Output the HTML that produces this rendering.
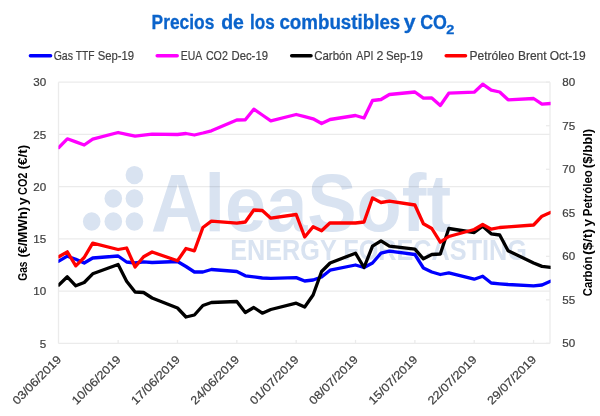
<!DOCTYPE html>
<html><head><meta charset="utf-8"><title>Precios de los combustibles y CO2</title>
<style>html,body{margin:0;padding:0;background:#fff}svg{display:block;will-change:transform}text{font-family:"Liberation Sans",sans-serif}</style></head><body>
<svg width="600" height="416" viewBox="0 0 600 416">
<rect width="600" height="416" fill="#fff"/>
<g fill="#d9e3f1">
<ellipse cx="134.4" cy="175.1" rx="8.8" ry="9.2"/>
<ellipse cx="113.3" cy="198.5" rx="8.8" ry="9.2"/>
<ellipse cx="134.4" cy="198.5" rx="8.8" ry="9.2"/>
<ellipse cx="91.7" cy="221.5" rx="8.8" ry="9.2"/>
<ellipse cx="113.3" cy="221.5" rx="8.8" ry="9.2"/>
<ellipse cx="134.4" cy="221.5" rx="8.8" ry="9.2"/>
<text transform="translate(151.10,230.9) scale(0.9927,1.095)" font-size="74.5" font-weight="bold">A</text>
<text transform="translate(204.50,230.9) scale(0.9927,1.095)" font-size="74.5" font-weight="bold">l</text>
<text transform="translate(225.06,230.9) scale(0.9927,1.035)" font-size="74.5" font-weight="bold">e</text>
<text transform="translate(266.18,230.9) scale(0.9927,1.035)" font-size="74.5" font-weight="bold">a</text>
<text transform="translate(307.30,230.9) scale(0.9927,1.095)" font-size="74.5" font-weight="bold">S</text>
<text transform="translate(356.62,230.9) scale(0.9927,1.035)" font-size="74.5" font-weight="bold">o</text>
<text transform="translate(401.81,230.9) scale(0.9927,1.095)" font-size="74.5" font-weight="bold">f</text>
<text transform="translate(426.44,230.9) scale(0.9927,1.095)" font-size="74.5" font-weight="bold">t</text>
<text transform="translate(230.2,259.8) scale(1,1.17)" font-size="24.7" font-weight="bold" textLength="296.7" lengthAdjust="spacingAndGlyphs">ENERGY FORECASTING</text>
</g>
<g stroke="#ebebeb" stroke-width="1.3" fill="none" style="mix-blend-mode:multiply">
<line x1="58.5" y1="82.20" x2="550.0" y2="82.20"/>
<line x1="58.5" y1="134.44" x2="550.0" y2="134.44"/>
<line x1="58.5" y1="186.68" x2="550.0" y2="186.68"/>
<line x1="58.5" y1="238.92" x2="550.0" y2="238.92"/>
<line x1="58.5" y1="291.16" x2="550.0" y2="291.16"/>
<line x1="58.5" y1="343.40" x2="550.0" y2="343.40"/>
<line x1="58.5" y1="82.2" x2="58.5" y2="343.4"/>
<line x1="550.0" y1="82.2" x2="550.0" y2="343.4"/>
<line x1="546.0" y1="82.20" x2="550.0" y2="82.20"/>
<line x1="546.0" y1="125.73" x2="550.0" y2="125.73"/>
<line x1="546.0" y1="169.27" x2="550.0" y2="169.27"/>
<line x1="546.0" y1="212.80" x2="550.0" y2="212.80"/>
<line x1="546.0" y1="256.33" x2="550.0" y2="256.33"/>
<line x1="546.0" y1="299.87" x2="550.0" y2="299.87"/>
<line x1="546.0" y1="343.40" x2="550.0" y2="343.40"/>
<line x1="118.15" y1="339.9" x2="118.15" y2="343.4"/>
<line x1="177.49" y1="339.9" x2="177.49" y2="343.4"/>
<line x1="236.84" y1="339.9" x2="236.84" y2="343.4"/>
<line x1="296.18" y1="339.9" x2="296.18" y2="343.4"/>
<line x1="355.53" y1="339.9" x2="355.53" y2="343.4"/>
<line x1="414.88" y1="339.9" x2="414.88" y2="343.4"/>
<line x1="474.22" y1="339.9" x2="474.22" y2="343.4"/>
<line x1="533.57" y1="339.9" x2="533.57" y2="343.4"/>
</g>
<clipPath id="pa"><rect x="58.4" y="60" width="492.2" height="300"/></clipPath>
<g fill="none" stroke-width="3.3" stroke-linejoin="round" stroke-linecap="round" clip-path="url(#pa)">
<polyline stroke="#0000ff" points="58.8,261.2 67.3,256.2 75.8,259.2 84.2,263.0 92.7,258.0 118.1,256.0 126.6,262.0 135.1,263.0 143.6,261.8 152.1,262.5 177.5,261.5 186.0,266.5 194.4,272.0 202.9,272.0 211.4,269.5 236.8,271.5 245.3,275.8 253.8,276.8 262.3,278.0 270.8,278.3 296.2,277.6 304.7,281.0 313.1,280.0 321.6,277.0 330.1,270.2 355.5,265.0 364.0,267.5 372.5,263.0 381.0,253.2 389.4,251.2 414.9,254.5 423.4,268.0 431.8,272.0 440.3,274.5 448.8,272.8 474.2,279.2 482.7,276.2 491.2,283.0 499.7,283.8 508.1,284.5 533.6,285.8 542.0,285.0 550.5,281.2"/>
<polyline stroke="#ff00ff" points="58.8,147.5 67.3,138.8 75.8,141.9 84.2,145.0 92.7,139.2 118.1,132.5 126.6,134.4 135.1,136.2 143.6,135.2 152.1,134.2 177.5,134.5 186.0,133.5 194.4,135.0 202.9,133.0 211.4,130.8 236.8,120.0 245.3,119.8 253.8,109.2 262.3,115.0 270.8,120.8 296.2,114.5 304.7,116.6 313.1,118.8 321.6,123.5 330.1,119.5 355.5,115.5 364.0,118.0 372.5,100.5 381.0,99.5 389.4,94.5 414.9,92.0 423.4,98.2 431.8,98.0 440.3,105.5 448.8,93.2 474.2,92.2 482.7,84.2 491.2,90.2 499.7,92.0 508.1,99.8 533.6,98.5 542.0,104.2 550.5,103.5"/>
<polyline stroke="#000000" points="58.8,285.0 67.3,276.8 75.8,285.8 84.2,282.5 92.7,273.8 118.1,264.5 126.6,281.2 135.1,292.0 143.6,292.5 152.1,298.0 177.5,308.0 186.0,317.0 194.4,315.0 202.9,305.5 211.4,302.5 236.8,301.5 245.3,312.5 253.8,307.5 262.3,313.2 270.8,309.5 296.2,303.2 304.7,307.0 313.1,295.0 321.6,271.5 330.1,263.0 355.5,253.2 364.0,267.5 372.5,246.2 381.0,240.8 389.4,246.2 414.9,249.2 423.4,258.8 431.8,254.5 440.3,254.0 448.8,228.5 474.2,232.5 482.7,226.2 491.2,233.8 499.7,235.0 508.1,250.7 533.6,263.0 542.0,266.4 550.5,267.3"/>
<polyline stroke="#ff0000" points="58.8,256.8 67.3,251.8 75.8,265.8 84.2,257.5 92.7,243.2 118.1,249.5 126.6,248.0 135.1,267.0 143.6,256.8 152.1,252.0 177.5,260.8 186.0,248.5 194.4,250.8 202.9,227.5 211.4,221.2 236.8,223.2 245.3,222.0 253.8,210.0 262.3,210.5 270.8,218.2 296.2,214.5 304.7,237.0 313.1,226.8 321.6,230.8 330.1,222.8 355.5,223.0 364.0,222.0 372.5,198.0 381.0,202.5 389.4,201.2 414.9,205.0 423.4,223.8 431.8,228.5 440.3,242.2 448.8,236.5 474.2,229.5 482.7,224.5 491.2,229.2 499.7,227.5 508.1,226.8 533.6,225.0 542.0,216.2 550.5,212.5"/>
</g>
<text x="151.61" y="28.8" font-size="19.5" font-weight="bold" fill="#0a63cb" stroke="#0a63cb" stroke-width="0.3" textLength="62.69" lengthAdjust="spacingAndGlyphs">Precios</text>
<text x="221.16" y="28.8" font-size="19.5" font-weight="bold" fill="#0a63cb" stroke="#0a63cb" stroke-width="0.3" textLength="22.72" lengthAdjust="spacingAndGlyphs">de</text>
<text x="250.02" y="28.8" font-size="19.5" font-weight="bold" fill="#0a63cb" stroke="#0a63cb" stroke-width="0.3" textLength="24.72" lengthAdjust="spacingAndGlyphs">los</text>
<text x="279.45" y="28.8" font-size="19.5" font-weight="bold" fill="#0a63cb" stroke="#0a63cb" stroke-width="0.3" textLength="120.81" lengthAdjust="spacingAndGlyphs">combustibles</text>
<text x="403.82" y="28.8" font-size="19.5" font-weight="bold" fill="#0a63cb" stroke="#0a63cb" stroke-width="0.3" textLength="11.83" lengthAdjust="spacingAndGlyphs">y</text>
<text x="420.24" y="28.8" font-size="19.5" font-weight="bold" fill="#0a63cb" stroke="#0a63cb" stroke-width="0.3" textLength="26.77" lengthAdjust="spacingAndGlyphs">CO</text>
<text x="446.39" y="33.9" font-size="12.6" font-weight="bold" fill="#0a63cb" stroke="#0a63cb" stroke-width="0.3" textLength="8.07" lengthAdjust="spacingAndGlyphs">2</text>
<g stroke-width="3.5" stroke-linecap="round">
<line x1="30.4" y1="55.7" x2="50.6" y2="55.7" stroke="#0000ff"/>
<line x1="157.2" y1="55.7" x2="177.2" y2="55.7" stroke="#ff00ff"/>
<line x1="291.7" y1="55.7" x2="311" y2="55.7" stroke="#000000"/>
<line x1="446.2" y1="55.7" x2="465.5" y2="55.7" stroke="#ff0000"/>
</g>
<g fill="#404040" font-size="13" stroke="#404040" stroke-width="0.2">
<text x="53.66" y="60.1" textLength="19.34" lengthAdjust="spacingAndGlyphs">Gas</text>
<text x="75.77" y="60.1" textLength="18.77" lengthAdjust="spacingAndGlyphs">TTF</text>
<text x="97.66" y="60.1" textLength="36.48" lengthAdjust="spacingAndGlyphs">Sep-19</text>
<text x="180.76" y="60.1" textLength="21.42" lengthAdjust="spacingAndGlyphs">EUA</text>
<text x="205.93" y="60.1" textLength="21.93" lengthAdjust="spacingAndGlyphs">CO2</text>
<text x="231.53" y="60.1" textLength="36.44" lengthAdjust="spacingAndGlyphs">Dec-19</text>
<text x="314.2" y="60.1" textLength="37.62" lengthAdjust="spacingAndGlyphs">Carbón</text>
<text x="356.35" y="60.1" textLength="17.01" lengthAdjust="spacingAndGlyphs">API</text>
<text x="376.38" y="60.1" textLength="6.91" lengthAdjust="spacingAndGlyphs">2</text>
<text x="385.91" y="60.1" textLength="36.99" lengthAdjust="spacingAndGlyphs">Sep-19</text>
<text x="469.44" y="60.1" textLength="44.81" lengthAdjust="spacingAndGlyphs">Petróleo</text>
<text x="517.94" y="60.1" textLength="28.64" lengthAdjust="spacingAndGlyphs">Brent</text>
<text x="549.7" y="60.1" textLength="36.05" lengthAdjust="spacingAndGlyphs">Oct-19</text>
</g>
<g fill="#404040" font-size="11.6" stroke="#404040" stroke-width="0.22">
<text x="46.1" y="86.4" text-anchor="end">30</text>
<text x="46.1" y="138.6" text-anchor="end">25</text>
<text x="46.1" y="190.9" text-anchor="end">20</text>
<text x="46.1" y="243.1" text-anchor="end">15</text>
<text x="46.1" y="295.4" text-anchor="end">10</text>
<text x="46.1" y="347.6" text-anchor="end">5</text>
<text x="562.3" y="86.2">80</text>
<text x="562.3" y="129.7">75</text>
<text x="562.3" y="173.3">70</text>
<text x="562.3" y="216.8">65</text>
<text x="562.3" y="260.3">60</text>
<text x="562.3" y="303.9">55</text>
<text x="562.3" y="347.4">50</text>
<text transform="translate(62.1,360.2) rotate(-45)" text-anchor="end" textLength="63.6" lengthAdjust="spacingAndGlyphs">03/06/2019</text>
<text transform="translate(121.4,360.2) rotate(-45)" text-anchor="end" textLength="63.6" lengthAdjust="spacingAndGlyphs">10/06/2019</text>
<text transform="translate(180.8,360.2) rotate(-45)" text-anchor="end" textLength="63.6" lengthAdjust="spacingAndGlyphs">17/06/2019</text>
<text transform="translate(240.1,360.2) rotate(-45)" text-anchor="end" textLength="63.6" lengthAdjust="spacingAndGlyphs">24/06/2019</text>
<text transform="translate(299.5,360.2) rotate(-45)" text-anchor="end" textLength="63.6" lengthAdjust="spacingAndGlyphs">01/07/2019</text>
<text transform="translate(358.8,360.2) rotate(-45)" text-anchor="end" textLength="63.6" lengthAdjust="spacingAndGlyphs">08/07/2019</text>
<text transform="translate(418.2,360.2) rotate(-45)" text-anchor="end" textLength="63.6" lengthAdjust="spacingAndGlyphs">15/07/2019</text>
<text transform="translate(477.5,360.2) rotate(-45)" text-anchor="end" textLength="63.6" lengthAdjust="spacingAndGlyphs">22/07/2019</text>
<text transform="translate(536.9,360.2) rotate(-45)" text-anchor="end" textLength="63.6" lengthAdjust="spacingAndGlyphs">29/07/2019</text>
</g>
<g fill="#000" font-size="13.1" font-weight="bold">
<text transform="translate(26.5,280.74) rotate(-90)" textLength="19.27" lengthAdjust="spacingAndGlyphs">Gas</text>
<text transform="translate(26.5,257.60) rotate(-90)" textLength="50.62" lengthAdjust="spacingAndGlyphs">(€/MWh)</text>
<text transform="translate(26.5,205.10) rotate(-90)" textLength="7.55" lengthAdjust="spacingAndGlyphs">y</text>
<text transform="translate(26.5,195.00) rotate(-90)" textLength="22.45" lengthAdjust="spacingAndGlyphs">CO2</text>
<text transform="translate(26.5,169.44) rotate(-90)" textLength="24.81" lengthAdjust="spacingAndGlyphs">(€/t)</text>
<text transform="translate(591.5,296.30) rotate(-90)" textLength="39.66" lengthAdjust="spacingAndGlyphs">Carbón</text>
<text transform="translate(591.5,255.01) rotate(-90)" textLength="26.24" lengthAdjust="spacingAndGlyphs">($/t)</text>
<text transform="translate(591.5,226.49) rotate(-90)" textLength="7.48" lengthAdjust="spacingAndGlyphs">y</text>
<text transform="translate(591.5,216.18) rotate(-90)" textLength="45.97" lengthAdjust="spacingAndGlyphs">Petróleo</text>
<text transform="translate(591.5,168.17) rotate(-90)" textLength="39.40" lengthAdjust="spacingAndGlyphs">($/bbl)</text>
</g>
</svg></body></html>
